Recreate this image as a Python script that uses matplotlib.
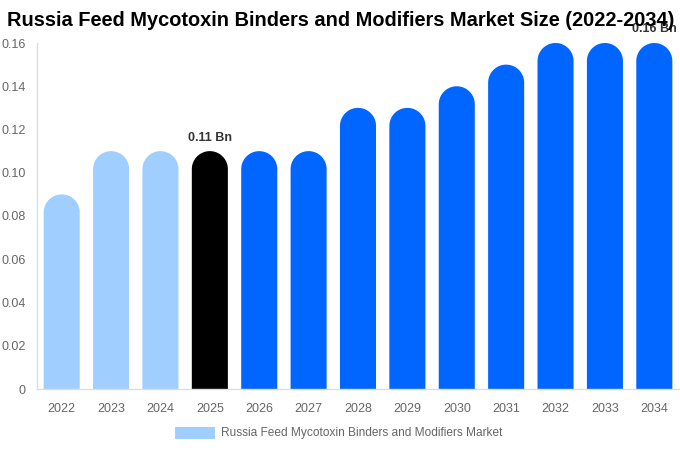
import matplotlib
matplotlib.use("Agg")
import numpy as np
import matplotlib.pyplot as plt
from matplotlib.patches import Polygon, Rectangle

plt.rcParams['font.family'] = ['Liberation Sans', 'DejaVu Sans']

years = ["2022", "2023", "2024", "2025", "2026", "2027", "2028", "2029", "2030", "2031", "2032", "2033", "2034"]
values = [0.09, 0.11, 0.11, 0.11, 0.11, 0.11, 0.13, 0.13, 0.14, 0.15, 0.16, 0.16, 0.16]
colors = ["#a0cfff"] * 3 + ["#000000"] + ["#0066ff"] * 9
yticks = [0, 0.02, 0.04, 0.06, 0.08, 0.10, 0.12, 0.14, 0.16]
ytick_labels = ["0", "0.02", "0.04", "0.06", "0.08", "0.10", "0.12", "0.14", "0.16"]
annotations = {3: "0.11 Bn", 12: "0.16 Bn"}
title = "Russia Feed Mycotoxin Binders and Modifiers Market Size (2022-2034)"
legend_label = "Russia Feed Mycotoxin Binders and Modifiers Market"

W, H = 680, 450
fig = plt.figure(figsize=(W / 100, H / 100), dpi=100)
ax_l, ax_r, ax_t, ax_b = 37, 679, 43, 389
ax = fig.add_axes([ax_l / W, (H - ax_b) / H, (ax_r - ax_l) / W, (ax_b - ax_t) / H])
ax.set_xlim(-0.5, len(years) - 0.5)
ax.set_ylim(0, 0.16)

bw = 0.73
px_per_x = (ax_r - ax_l) / len(years)
px_per_y = (ax_b - ax_t) / 0.16
r_px = bw * px_per_x / 2
r_y = r_px / px_per_y

theta = np.linspace(0, np.pi, 60)
for i, (v, c) in enumerate(zip(values, colors)):
    cy = v - r_y
    arc = np.column_stack([i + (bw / 2) * np.cos(theta), cy + r_y * np.sin(theta)])
    pts = np.vstack([[[i + bw / 2, 0]], arc, [[i - bw / 2, 0]]])
    ax.add_patch(Polygon(pts, closed=True, facecolor=c, edgecolor='none', linewidth=0, clip_on=False))

for i, txt in annotations.items():
    ax.text(i, values[i] + 0.0035, txt, ha='center', va='bottom', fontsize=9, fontweight='bold',
            color='#333333', clip_on=False, zorder=1)

ax.set_xticks(range(len(years)))
ax.set_xticklabels(years)
ax.set_yticks(yticks)
ax.set_yticklabels(ytick_labels)
ax.tick_params(axis='both', length=0, labelsize=9, labelcolor='#666666')
ax.tick_params(axis='x', pad=10)
ax.tick_params(axis='y', pad=8)
for s in ['top', 'right']:
    ax.spines[s].set_visible(False)
for s in ['left', 'bottom']:
    ax.spines[s].set_color('#dddddd')
    ax.spines[s].set_linewidth(1)

fig.text(341 / W, 1 - 21 / H, title, ha='center', va='center', fontsize=14.4, fontweight='bold',
         color='#000000', zorder=5)

# legend
fig.patches.append(Rectangle((175 / W, 1 - 439 / H), 40 / W, 12 / H, facecolor="#a0cfff",
                             edgecolor='none', transform=fig.transFigure, figure=fig))
fig.text(221 / W, 1 - 433 / H, legend_label, ha='left', va='center', fontsize=8.6, color='#666666')

fig.savefig("out.png", dpi=100)
